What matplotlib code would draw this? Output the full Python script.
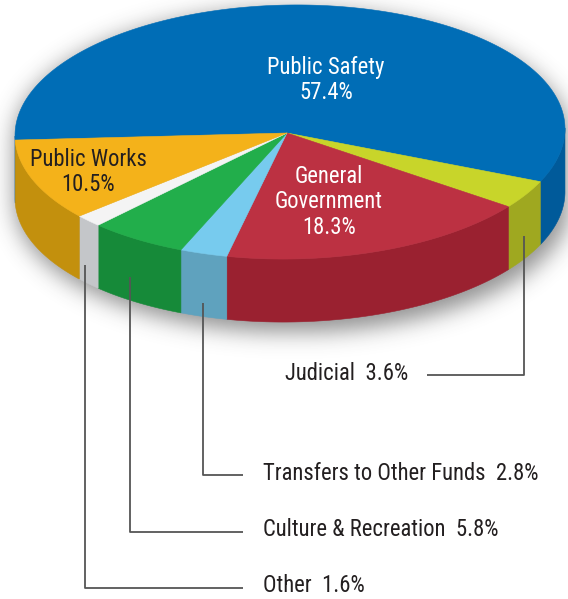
import numpy as np
import matplotlib.pyplot as plt
from matplotlib import font_manager
from matplotlib.patches import Polygon

# budget shares, listed clockwise starting from the left rim of the pie
labels = ['Public Safety', 'Judicial', 'General Government', 'Transfers to Other Funds',
          'Culture & Recreation', 'Other', 'Public Works']
shares = [57.4, 3.6, 18.3, 2.8, 5.8, 1.6, 10.5]
top_colors = ['#006db6', '#c8d52a', '#bc3142', '#77cbee', '#22ae4b', '#f4f4f4', '#f4b21a']
side_colors = ['#005a9a', '#9fa820', '#9a2130', '#5fa2be', '#168a39', '#c4c6c9', '#c3900d']

W, H = 568, 599
cx, cy = 290, 132
rx, ry = 275, 127
tilt = np.radians(0.85)
depth = 63
start_angle = 181.8

# narrow sans if one is around, else Roboto
installed = {f.name for f in font_manager.fontManager.ttflist}
font = next((n for n in ['Roboto Condensed', 'Archivo Narrow', 'PT Sans Narrow',
                         'Liberation Sans Narrow', 'Roboto'] if n in installed), 'DejaVu Sans')
plt.rcParams['font.family'] = [font, 'DejaVu Sans']

fig = plt.figure(figsize=(W / 100, H / 100), dpi=100)
ax = fig.add_axes([0, 0, 1, 1])
ax.set_xlim(0, W)
ax.set_ylim(H, 0)
ax.axis('off')


def rim(theta, drop=0.0):
    t = np.radians(theta)
    dx, dy = rx * np.cos(t), ry * np.sin(t)
    x = cx + dx * np.cos(tilt) - dy * np.sin(tilt)
    y = cy - (dx * np.sin(tilt) + dy * np.cos(tilt)) + drop
    return np.column_stack([x, y])


# soft drop shadow under the disc
yy, xx = np.mgrid[0:H, 0:W].astype(float)
sy = cy + 7
shadow = (((xx - cx - 2) / (rx + 3)) ** 2 + ((yy - sy) / (ry + 3)) ** 2 <= 1)
shadow |= (((xx - cx - 2) / (rx + 3)) ** 2 + ((yy - sy - depth) / (ry + 3)) ** 2 <= 1)
shadow |= (np.abs(xx - cx - 2) <= rx + 3) & (yy >= sy) & (yy <= sy + depth)
k = np.arange(-40, 41)
kernel = np.exp(-k ** 2 / (2 * 11.0 ** 2))
kernel /= kernel.sum()
blur = shadow.astype(float)
blur = np.apply_along_axis(lambda r: np.convolve(r, kernel, mode='same'), 1, blur)
blur = np.apply_along_axis(lambda c: np.convolve(c, kernel, mode='same'), 0, blur)
rgba = np.zeros((H, W, 4))
rgba[..., :3] = 0.22
rgba[..., 3] = blur * 0.55
ax.imshow(rgba, extent=(0, W, H, 0), zorder=0, interpolation='bilinear')

# wedge angles, running clockwise
bounds = start_angle - np.concatenate([[0], np.cumsum(shares)]) * 3.6
spans = list(zip(bounds[:-1], bounds[1:]))

# outer walls: only the front half (sin < 0) faces the viewer
for (a0, a1), col in zip(spans, side_colors):
    lo, hi = a1, a0
    for f0, f1 in [(-540, -360), (-180, 0), (180, 360)]:
        s0, s1 = max(lo, f0), min(hi, f1)
        if s1 <= s0:
            continue
        th = np.linspace(s0, s1, 80)
        upper = rim(th)
        lower = rim(th[::-1], depth)
        ax.add_patch(Polygon(np.vstack([upper, lower]), closed=True,
                             facecolor=col, edgecolor=col, lw=0.4, zorder=2))

# top faces
for (a0, a1), col in zip(spans, top_colors):
    th = np.linspace(a0, a1, 200)
    pts = np.vstack([[cx - 3, cy + 1], rim(th)])
    ax.add_patch(Polygon(pts, closed=True, facecolor=col, edgecolor=col,
                         lw=0.4, zorder=3))

# labels on the top face
fs = 16.3
ax.text(326, 80, f'{labels[0]}\n{shares[0]}%', color='white', fontsize=fs,
        ha='center', va='center', linespacing=1.15, zorder=5)
ax.text(329, 202, f'General\nGovernment\n{shares[2]}%', color='white', fontsize=fs,
        ha='center', va='center', linespacing=1.15, zorder=5)
ax.text(88, 172, f'{labels[6]}\n{shares[6]}%', color='#231f20', fontsize=fs,
        ha='center', va='center', linespacing=1.15, zorder=5)

# callouts for the narrow slices
line_kw = dict(color='#555555', lw=1.3, zorder=4, solid_capstyle='butt')
ax.plot([524, 524, 427], [236, 375, 375], **line_kw)
ax.text(408, 374, f'{labels[1]}  {shares[1]}%', color='#231f20', fontsize=fs,
        ha='right', va='center', zorder=5)

callouts = [(3, 203, 303, 475), (4, 130, 277, 532), (5, 85, 265, 588)]
for idx, x0, y0, y1 in callouts:
    ax.plot([x0, x0, 243], [y0, y1, y1], **line_kw)
    ax.text(263, y1 - 2, f'{labels[idx]}  {shares[idx]}%', color='#231f20',
            fontsize=fs, ha='left', va='center', zorder=5)

fig.savefig('out.png', dpi=100)
